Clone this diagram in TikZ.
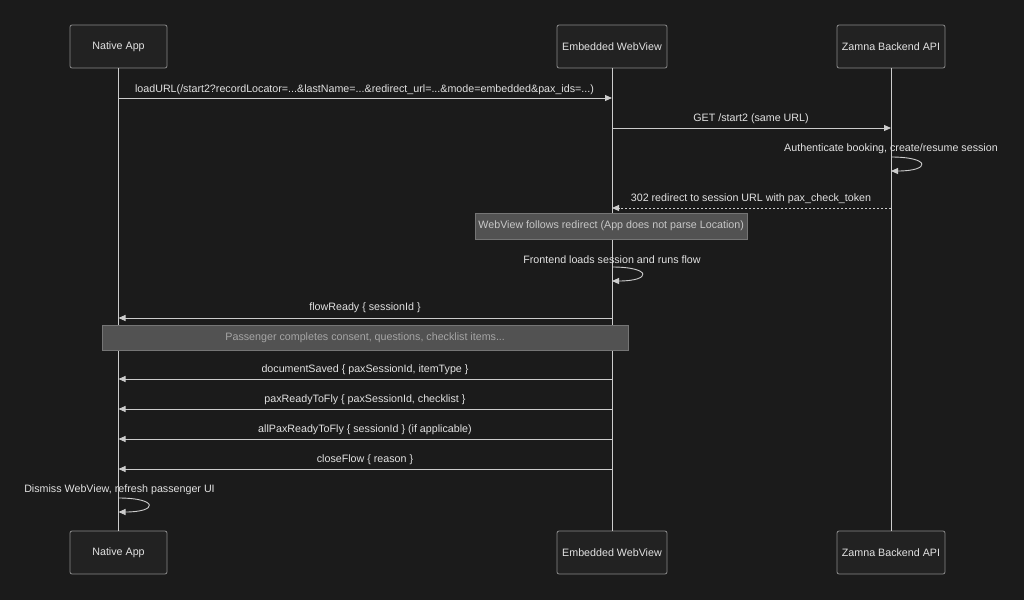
\documentclass[tikz,border=0pt]{standalone}
\usepackage{fontspec}
\setmainfont{Liberation Sans}
\usetikzlibrary{arrows.meta,calc}
\definecolor{bg}{HTML}{1B1B1B}
\definecolor{boxfill}{HTML}{222222}
\definecolor{boxline}{HTML}{8A8A8A}
\definecolor{txt}{HTML}{E2E2E2}
\definecolor{lline}{HTML}{CCCCCC}
\definecolor{notefill}{HTML}{525252}
\definecolor{notetxt}{HTML}{C8C8C8}
\definecolor{notetxtb}{HTML}{A6A6A6}
\tikzset{
  actor/.style={draw=boxline, fill=boxfill, rounded corners=2pt, line width=0.8pt,
    text=txt, font=\fontsize{10.7}{12}\selectfont, minimum height=43pt, inner sep=0pt},
  life/.style={draw=lline, line width=0.9pt},
  msg/.style={draw=lline, line width=0.9pt, -{Triangle[width=6pt,length=7pt]}},
  dmsg/.style={msg, dash pattern=on 2pt off 2pt},
  lbl/.style={text=txt, font=\fontsize{10.7}{12}\selectfont, inner sep=0pt, anchor=center},
  notebox/.style={fill=notefill, draw=notefill!80!white, line width=0.4pt, inner sep=0pt,
    anchor=north west}
}
\begin{document}
\begin{tikzpicture}[x=1pt,y=-1pt]
\fill[bg] (0,0) rectangle (1024,600);
\useasboundingbox (0,0) rectangle (1024,600);
% participants
\node[actor, minimum width=97pt] (natT) at (118.5,46.5) {Native App};
\node[actor, minimum width=110pt] (webT) at (612,46.5) {Embedded WebView};
\node[actor, minimum width=108pt] (apiT) at (891,46.5) {Zamna Backend API};
\node[actor, minimum width=97pt] (natB) at (118.5,552.5) {Native App};
\node[actor, minimum width=110pt] (webB) at (612,552.5) {Embedded WebView};
\node[actor, minimum width=108pt] (apiB) at (891,552.5) {Zamna Backend API};
% lifelines
\draw[life] (natT.south) -- (natB.north);
\draw[life] (webT.south) -- (webB.north);
\draw[life] (apiT.south) -- (apiB.north);
% coordinates on lifelines
\foreach \y/\n in {98/a1,318/a7,379/a9,409/a10,439/a11,469/a12,498/a13s,512/a13e}{\coordinate (N\n) at (natT.south |- 0,\y);}
\foreach \y/\n in {98/a1,128/a2,208/a4,267/a6s,281/a6e,318/a7,379/a9,409/a10,439/a11,469/a12}{\coordinate (W\n) at (webT.south |- 0,\y);}
\foreach \y/\n in {128/a2,157/a3s,171/a3e,208/a4}{\coordinate (A\n) at (apiT.south |- 0,\y);}
% messages
\draw[msg] (Na1) -- (Wa1);
\node[lbl] (l1) at (364.5,89.5) {loadURL(/start2?recordLocator=...\&lastName=...\&redirect\_url=...\&mode=embedded\&pax\_ids=...)};
\draw[msg] (Wa2) -- (Aa2);
\node[lbl] (l2) at (751,118.5) {GET /start2 (same URL)};
\draw[msg] (Aa3s) .. controls ($(Aa3s)+(40,0)$) and ($(Aa3e)+(40,0)$) .. (Aa3e);
\node[lbl] (l3) at (891,148.5) {Authenticate booking, create/resume session};
\draw[dmsg] (Aa4) -- (Wa4);
\node[lbl] (l4) at (751,198.5) {302 redirect to session URL with pax\_check\_token};
\node[notebox, minimum width=272pt, minimum height=26pt] (n1) at (475,213) {};
\node[lbl, text=notetxt] (n1t) at (n1.center) {WebView follows redirect (App does not parse Location)};
\draw[msg] (Wa6s) .. controls ($(Wa6s)+(40,0)$) and ($(Wa6e)+(40,0)$) .. (Wa6e);
\node[lbl] (l6) at (612,259.5) {Frontend loads session and runs flow};
\draw[msg] (Wa7) -- (Na7);
\node[lbl] (l7) at (365,307.5) {flowReady \{ sessionId \}};
\node[notebox, minimum width=526pt, minimum height=25pt] (n2) at (102,325) {};
\node[lbl, text=notetxtb] (n2t) at (n2.center) {Passenger completes consent, questions, checklist items...};
\draw[msg] (Wa9) -- (Na9);
\node[lbl] (l9) at (365,369.5) {documentSaved \{ paxSessionId, itemType \}};
\draw[msg] (Wa10) -- (Na10);
\node[lbl] (l10) at (365,399.5) {paxReadyToFly \{ paxSessionId, checklist \}};
\draw[msg] (Wa11) -- (Na11);
\node[lbl] (l11) at (365,429.5) {allPaxReadyToFly \{ sessionId \} (if applicable)};
\draw[msg] (Wa12) -- (Na12);
\node[lbl] (l12) at (365,459.5) {closeFlow \{ reason \}};
\draw[msg] (Na13s) .. controls ($(Na13s)+(40,0)$) and ($(Na13e)+(40,0)$) .. (Na13e);
\node[lbl] (l13) at (119.5,489.5) {Dismiss WebView, refresh passenger UI};
\end{tikzpicture}
\end{document}
